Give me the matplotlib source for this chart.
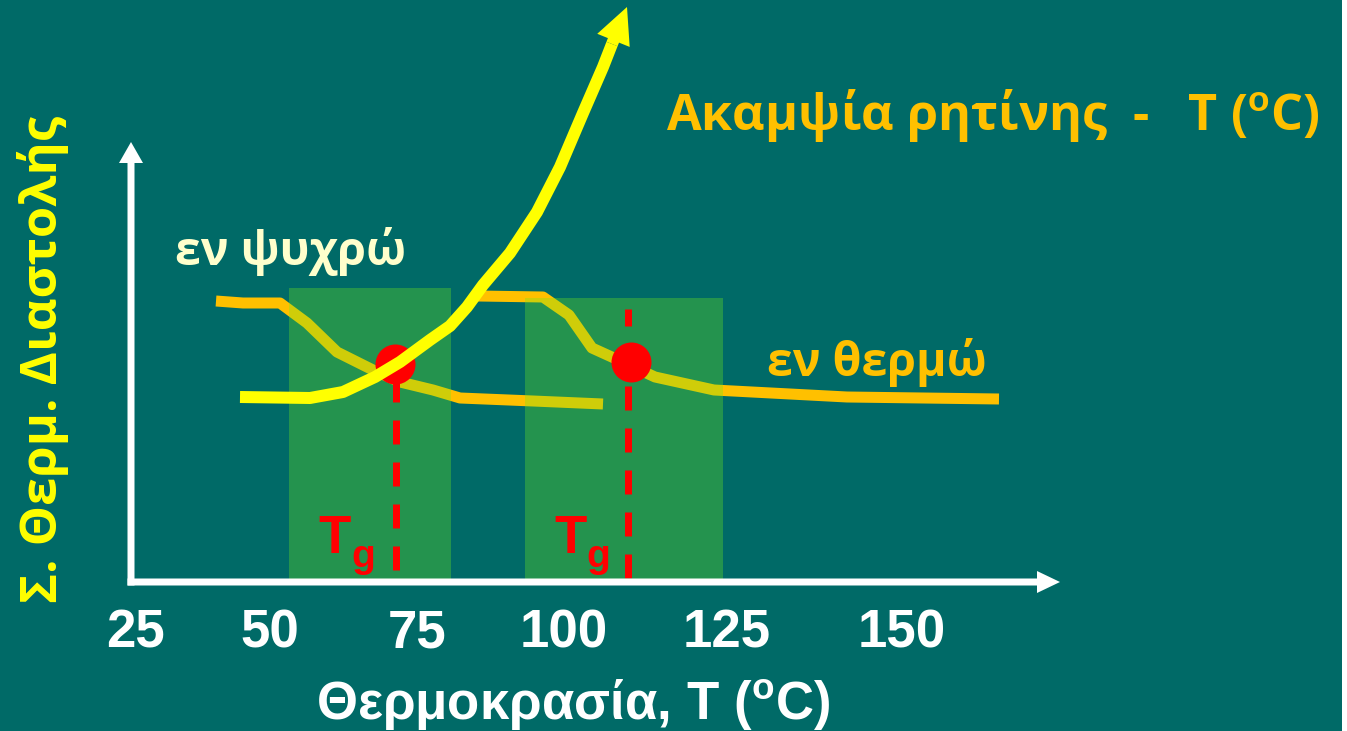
import matplotlib
matplotlib.use('Agg')
import matplotlib.pyplot as plt
from matplotlib.patches import Rectangle

plt.rcParams['lines.scale_dashes'] = False
plt.rcParams['mathtext.fontset'] = 'custom'
plt.rcParams['mathtext.bf'] = 'Liberation Sans:bold'

# ---- data (in picture units: x right, y down) ----
cold_x = [216, 243, 280, 307, 337, 373, 400, 433, 460, 533, 603]
cold_y = [301, 303, 303, 323, 352, 370, 382, 390, 398, 401, 404]
hot_x = [478, 543, 569, 592, 614, 655, 714, 847, 999]
hot_y = [296, 297, 315, 348, 358, 377, 390, 397, 399]
stiff_x = [240, 310, 343, 375, 400, 430, 450, 467, 483, 510, 537, 560, 583, 603, 612]
stiff_y = [397, 398, 392, 377, 362, 340, 326, 307, 285, 253, 212, 167, 113, 67, 44]
stiff_tip = [627, 7]
tg_x = [395, 631]
tg_y = [364, 362]
tg_line_top = [370, 309]
tg_line_bottom = [570, 578]
tg_line_x = [396, 628]
band_left = [289, 525]
band_right = [451, 723]
band_top = [288, 298]
tick_labels = ['25', '50', '75', '100', '125', '150']
tick_pos = [136, 270, 417, 564, 727, 902]

W, H = 1347, 731
PT = 0.72  # points per pixel at 100 dpi

BG = '#006A67'
ORANGE = '#FFC000'
YELLOW = '#FFFF00'
RED = '#FF0000'
CREAM = '#FFFFCC'
HUMANIST = ['Open Sans', 'DejaVu Sans']

fig = plt.figure(figsize=(W / 100, H / 100), dpi=100, facecolor='white')
ax = fig.add_axes([0, 0, 1342 / W, 1])
ax.set_xlim(0, 1342)
ax.set_ylim(H, 0)
ax.set_facecolor(BG)
for s in ax.spines.values():
    s.set_visible(False)
ax.set_xticks([])
ax.set_yticks([])

axis_y = 582
axis_x = 131

# orange curves (below the bands)
for xs, ys in [(cold_x, cold_y), (hot_x, hot_y)]:
    ax.plot(xs, ys, color=ORANGE, lw=11 * PT, solid_capstyle='butt',
            solid_joinstyle='round', zorder=2)

# translucent green bands
for l, r, t in zip(band_left, band_right, band_top):
    ax.add_patch(Rectangle((l, t), r - l, axis_y - 3 - t, facecolor=(110 / 255, 232 / 255, 30 / 255),
                           alpha=0.33, lw=0, zorder=3))

# Tg dashed lines and points
for x, t, b in zip(tg_line_x, tg_line_top, tg_line_bottom):
    ax.plot([x, x], [b, t], color=RED, lw=7 * PT, dashes=(24 * PT, 18 * PT), zorder=4)
ax.scatter(tg_x, tg_y, s=(40 * PT) ** 2, color=RED, linewidths=0, zorder=5)

# yellow stiffness curve with arrow head
ax.plot(stiff_x, stiff_y, color=YELLOW, lw=12 * PT, solid_capstyle='butt',
        solid_joinstyle='round', zorder=6)
ax.arrow(stiff_x[-1], stiff_y[-1], stiff_tip[0] - stiff_x[-1], stiff_tip[1] - stiff_y[-1],
         width=12, head_width=35, head_length=36, length_includes_head=True,
         color=YELLOW, lw=0, zorder=6)

# white axes
ax.arrow(axis_x, axis_y + 3.5, 0, 142 - (axis_y + 3.5), width=7, head_width=24, head_length=21,
         length_includes_head=True, color='white', lw=0, zorder=7)
ax.arrow(axis_x - 3.5, axis_y, 1060 - (axis_x - 3.5), 0, width=7, head_width=22, head_length=23,
         length_includes_head=True, color='white', lw=0, zorder=7)

# tick labels
for lab, x in zip(tick_labels, tick_pos):
    ax.text(x, 648, lab, color='white', fontsize=38, fontweight='bold',
            family='Liberation Sans', ha='center', va='baseline', zorder=8)

# axis titles
ax.text(316, 720, r'Θερμοκρασία, T ($^{\mathbf{o}}$C)', color='white', fontsize=38,
        fontweight='bold', family='Liberation Sans', ha='left', va='baseline', zorder=8)
ax.text(43, 359, 'Σ. Θερμ. Διαστολής', color=YELLOW, fontsize=36.5, fontweight='bold',
        family=HUMANIST, rotation=90, ha='center', va='center', zorder=8)

# annotations
ax.text(666, 130, r'Ακαμψία ρητίνης  -   T ($^{\mathbf{o}}$C)', color=ORANGE, fontsize=36.3,
        fontweight='bold', family=HUMANIST, ha='left', va='baseline', zorder=8)
ax.text(175, 265, 'εν ψυχρώ', color=CREAM, fontsize=33.5, fontweight='bold',
        family=HUMANIST, ha='left', va='baseline', zorder=8)
ax.text(767, 376, 'εν θερμώ', color=ORANGE, fontsize=33.5, fontweight='bold',
        family=HUMANIST, ha='left', va='baseline', zorder=8)

# Tg labels
for tx, gx in [(318, 351), (554, 586)]:
    ax.text(tx, 553, 'T', color=RED, fontsize=38, fontweight='bold', family='Liberation Sans',
            ha='left', va='baseline', zorder=8)
    ax.text(gx, 567, 'g', color=RED, fontsize=28, fontweight='bold', family='Liberation Sans',
            ha='left', va='baseline', zorder=8)

fig.savefig('out.png', dpi=100, facecolor='white')
